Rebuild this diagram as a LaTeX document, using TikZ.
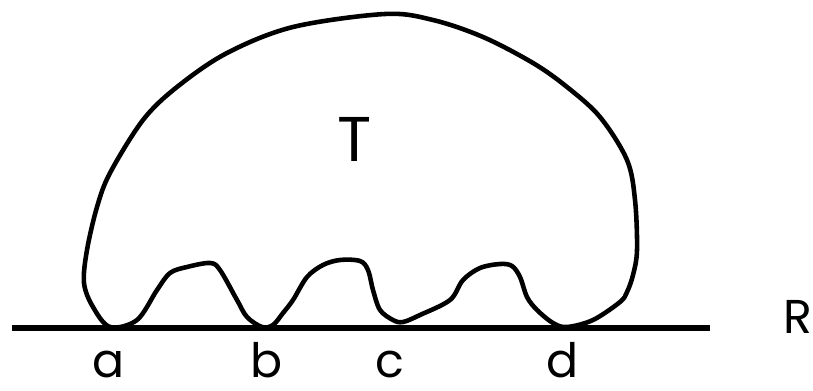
\documentclass[tikz,border=0pt]{standalone}
\usepackage{fontspec}
\setmainfont{Poppins}
\usepackage{tikz}
\usetikzlibrary{positioning}

\begin{document}
\begin{tikzpicture}[
  x=0.02cm, y=-0.02cm,
  outline/.style={draw, line width=2.6pt, line join=round, line cap=round},
  ground/.style={draw, line width=2.9pt},
  lbl/.style={anchor=base, inner sep=0pt, font=\fontsize{27}{29}\selectfont},
  biglbl/.style={anchor=base, inner sep=0pt, font=\fontsize{36}{40}\selectfont}
]
\useasboundingbox (0,0) rectangle (813,391);

% the line R
\coordinate (rleft) at (12,328);
\coordinate (rright) at (710,328);
\draw[ground] (rleft) -- (rright);

% the body T resting on R
\draw[outline] plot[smooth cycle, tension=0.55] coordinates {
  (110,327) (93,307) (84,283) (87,250) (97,207) (110,173) (143,120)
  (177,87) (227,53) (293,27) (385,14) (433,20) (483,37) (533,63)
  (567,87) (600,117) (627,160) (635,200) (637,250) (633,275) (627,292)
  (620,302) (593,320) (567,327) (553,323) (537,310) (527,297) (520,277)
  (512,266) (500,264) (480,268) (463,280) (450,300) (420,315) (403,322)
  (393,320) (380,310) (373,290) (368,270) (360,261) (340,260) (323,265)
  (307,277) (293,300) (283,313) (273,325) (262,327) (247,317) (237,300)
  (220,270) (210,263) (187,267) (170,273) (157,290) (137,320)};

% labels
\node[biglbl] (body) at (355,162) {T};
\node[lbl] (pa) at (109,377) {a};
\node[lbl] (pb) at (267,377) {b};
\node[lbl] (pc) at (390,377) {c};
\node[lbl] (pd) at (563,377) {d};
\node[lbl, anchor=base west] (line) at (783,333) {R};
\end{tikzpicture}
\end{document}
